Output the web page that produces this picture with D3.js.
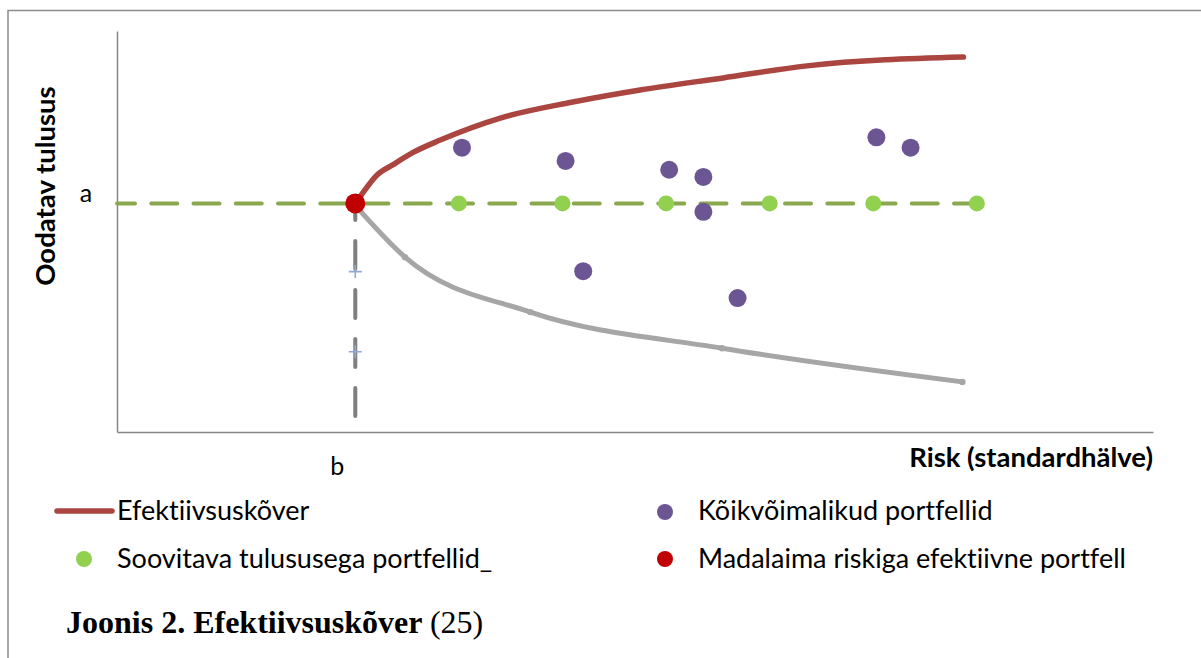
<!DOCTYPE html>
<html>
<head>
<meta charset="utf-8">
<script src="https://cdn.jsdelivr.net/npm/d3@7"></script>
<style>
  html, body { margin: 0; padding: 0; background: #fff; }
  svg { display: block; }
  text { font-variant-ligatures: none; }
</style>
</head>
<body>
<svg id="chart" width="1201" height="658"></svg>
<script>
// efficient frontier (upper branch) - risk / return
const frontierRisk = [23, 23.5, 25.1, 26.6, 28.5, 31.2, 37.0, 44.0, 50.5, 58.5, 66.6, 81.7]
const frontierReturn = [57, 58.8, 64.1, 66.6, 69.6, 72.8, 78.3, 82.3, 85.3, 88.3, 91.3, 93.5]

// lower (inefficient) branch
const lowerRisk = [23, 27.8, 39.9, 58.4, 81.6]
const lowerReturn = [56.5, 43.6, 29.9, 20.9, 12.5]

// all possible portfolios
const allRisk = [33.3, 43.3, 53.3, 56.6, 56.6, 45.0, 59.9, 73.3, 76.6]
const allReturn = [70.9, 67.6, 65.4, 63.6, 54.9, 40.1, 33.4, 73.5, 70.9]

// portfolios with the desired return (a)
const targetReturn = 57
const targetRisk = [33, 43, 53, 63, 73, 83]
const targetLineRisk = [0, 83]

// minimum-risk efficient portfolio (b, a)
const minRisk = 23
const minReturn = 57
const dropReturn = [0, 57]
const plusReturn = [20, 40]

const legendNames = ['Efektiivsuskõver', 'Kõikvõimalikud portfellid',
  'Soovitava tulususega portfellid_', 'Madalaima riskiga efektiivne portfell']

function draw() {
  const svg = d3.select('#chart')
  svg.selectAll('*').remove()

  const font = 'Lato, "Open Sans", sans-serif'
  const x = d3.scaleLinear().domain([0, 100]).range([117, 1153])
  const y = d3.scaleLinear().domain([0, 100]).range([432, 31])

  // outer frame (left + top)
  svg.append('path')
    .attr('d', 'M8,658 L8,10.5 L1201,10.5')
    .attr('fill', 'none')
    .attr('stroke', '#8c8c8c')
    .attr('stroke-width', 1.5)

  // axes
  svg.append('g')
    .attr('transform', `translate(0,${y(0)})`)
    .call(d3.axisBottom(x).tickValues([]).tickSizeOuter(0))
    .call(g => g.select('.domain').attr('stroke', '#868686').attr('stroke-width', 1.5))
  svg.append('g')
    .attr('transform', `translate(${x(0)},0)`)
    .call(d3.axisLeft(y).tickValues([]).tickSizeOuter(0))
    .call(g => g.select('.domain').attr('stroke', '#868686').attr('stroke-width', 1.5))

  const line = d3.line().x(d => x(d[0])).y(d => y(d[1]))

  // green dashed target line
  svg.append('path')
    .attr('d', line(targetLineRisk.map(r => [r, targetReturn])))
    .attr('fill', 'none')
    .attr('stroke', '#8aa84e')
    .attr('stroke-width', 4)
    .attr('stroke-linecap', 'round')
    .attr('stroke-dasharray', '26 16.25')
    .attr('stroke-dashoffset', 8)

  // lower branch
  const lower = lowerRisk.map((r, i) => [r, lowerReturn[i]])
  svg.append('path')
    .attr('d', line.curve(d3.curveMonotoneX)(lower))
    .attr('fill', 'none')
    .attr('stroke', '#a6a6a6')
    .attr('stroke-width', 5)
    .attr('stroke-linecap', 'round')
  svg.append('g').selectAll('circle')
    .data(lower.slice(1))
    .join('circle')
    .attr('cx', d => x(d[0]))
    .attr('cy', d => y(d[1]))
    .attr('r', 3.2)
    .attr('fill', '#a6a6a6')

  // vertical dashed drop line at b
  svg.append('path')
    .attr('d', d3.line().x(() => x(minRisk)).y(d => y(d))(dropReturn))
    .attr('fill', 'none')
    .attr('stroke', '#7f7f7f')
    .attr('stroke-width', 4)
    .attr('stroke-linecap', 'round')
    .attr('stroke-dasharray', '28 21')
    .attr('stroke-dashoffset', 33)

  svg.append('g').selectAll('path')
    .data(plusReturn)
    .join('path')
    .attr('d', d => `M${x(minRisk) - 6.5},${y(d)} h13 M${x(minRisk)},${y(d) - 6.5} v13`)
    .attr('stroke', '#8ea9d6')
    .attr('stroke-width', 1.6)

  // efficient frontier
  const frontier = frontierRisk.map((r, i) => [r, frontierReturn[i]])
  svg.append('path')
    .attr('d', d3.line().x(d => x(d[0])).y(d => y(d[1])).curve(d3.curveMonotoneX)(frontier))
    .attr('fill', 'none')
    .attr('stroke', '#aa4540')
    .attr('stroke-width', 5.5)
    .attr('stroke-linecap', 'round')

  // all portfolios
  svg.append('g').selectAll('circle')
    .data(allRisk.map((r, i) => [r, allReturn[i]]))
    .join('circle')
    .attr('cx', d => x(d[0]))
    .attr('cy', d => y(d[1]))
    .attr('r', 9)
    .attr('fill', '#6c5593')

  // target-return portfolios
  svg.append('g').selectAll('circle')
    .data(targetRisk)
    .join('circle')
    .attr('cx', d => x(d))
    .attr('cy', y(targetReturn))
    .attr('r', 8)
    .attr('fill', '#92d050')

  // minimum risk portfolio
  svg.append('circle')
    .attr('cx', x(minRisk))
    .attr('cy', y(minReturn))
    .attr('r', 10)
    .attr('fill', '#c00000')

  // labels a / b
  svg.append('text')
    .attr('x', 86).attr('y', y(targetReturn) - 1)
    .attr('text-anchor', 'middle')
    .style('font', `25px ${font}`)
    .text('a')
  svg.append('text')
    .attr('x', x(minRisk) - 18).attr('y', 475)
    .attr('text-anchor', 'middle')
    .style('font', `25px ${font}`)
    .text('b')

  // axis titles
  svg.append('text')
    .attr('transform', 'translate(55,186) rotate(-90)')
    .attr('text-anchor', 'middle')
    .style('font', `bold 27.5px ${font}`)
    .text('Oodatav tulusus')
  svg.append('text')
    .attr('x', 1153).attr('y', 467)
    .attr('text-anchor', 'end')
    .style('font', `bold 27.5px ${font}`)
    .text('Risk (standardhälve)')

  // legend
  const lg = svg.append('g').style('font', `27px ${font}`)
  lg.append('line')
    .attr('x1', 57).attr('x2', 112).attr('y1', 511).attr('y2', 511)
    .attr('stroke', '#aa4540').attr('stroke-width', 5.5).attr('stroke-linecap', 'round')
  lg.append('text').attr('x', 117).attr('y', 520).text(legendNames[0])
  lg.append('circle').attr('cx', 665).attr('cy', 512).attr('r', 8).attr('fill', '#6c5593')
  lg.append('text').attr('x', 698).attr('y', 520).text(legendNames[1])
  lg.append('circle').attr('cx', 84).attr('cy', 559).attr('r', 8).attr('fill', '#92d050')
  lg.append('text').attr('x', 117).attr('y', 568).text(legendNames[2])
  lg.append('circle').attr('cx', 665).attr('cy', 559).attr('r', 8).attr('fill', '#c00000')
  lg.append('text').attr('x', 698).attr('y', 568).text(legendNames[3])

  // caption
  const cap = svg.append('text')
    .attr('x', 66).attr('y', 633)
    .style('font', '32px "Liberation Serif", "Times New Roman", serif')
  cap.append('tspan').style('font-weight', 'bold').text('Joonis 2. Efektiivsuskõver ')
  cap.append('tspan').text('(25)')
}

document.addEventListener('DOMContentLoaded', draw, false)
</script>
</body>
</html>
